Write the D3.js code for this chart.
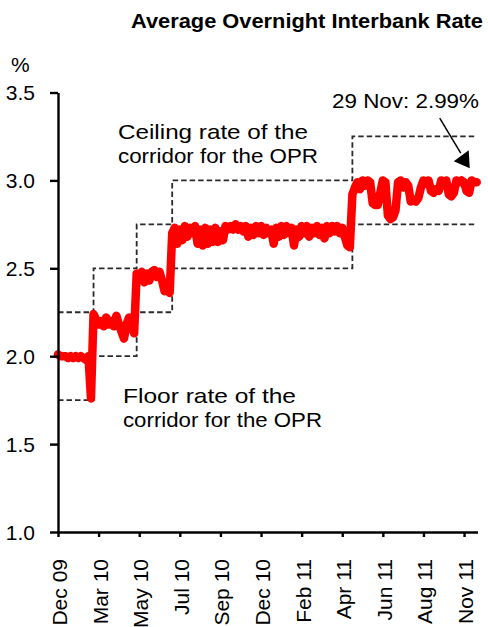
<!DOCTYPE html>
<html>
<head>
<meta charset="utf-8">
<script src="https://cdn.jsdelivr.net/npm/d3@7/dist/d3.min.js"></script>
<style>
  body { margin: 0; background: #fff; }
  text { font-family: 'Liberation Sans', Arial, sans-serif; fill: #000; }
</style>
</head>
<body>
<div id="chart"></div>
<script>
// x is the observation number (roughly every third business day)
const tickIdx = [0, 16, 32, 48, 64, 80, 96, 112, 128, 144, 160];
const tickLabels = ['Dec 09', 'Mar 10', 'May 10', 'Jul 10', 'Sep 10', 'Dec 10',
  'Feb 11', 'Apr 11', 'Jun 11', 'Aug 11', 'Nov 11'];
const yTicks = [1.0, 1.5, 2.0, 2.5, 3.0, 3.5];

// OPR changes and the +/- 25bp corridor round it
const oprIdx = [0, 14, 31, 45, 116, 165];
const oprRate = [2.00, 2.25, 2.50, 2.75, 3.00, 3.00];
const corridorGap = 0.25;

// average overnight interbank rate, %
const rateOpr200 = [2.01, 2.00, 2.00, 2.00, 1.99, 2.00, 1.99, 2.00, 1.99, 2.00, 1.99, 1.98, 2.00, 1.76];
const rateOpr225 = [2.24, 2.21, 2.18, 2.20, 2.17, 2.22, 2.18, 2.20, 2.17, 2.23, 2.18, 2.14, 2.10, 2.18,
  2.22, 2.18, 2.13];
const rateOpr250 = [2.47, 2.44, 2.48, 2.42, 2.47, 2.43, 2.48, 2.49, 2.45, 2.48, 2.43, 2.37, 2.40, 2.36];
const rateOpr275 = [
  2.70, 2.73, 2.64, 2.72, 2.66, 2.74, 2.68, 2.73, 2.70, 2.74,
  2.64, 2.72, 2.63, 2.73, 2.64, 2.72, 2.65, 2.73, 2.65, 2.71,
  2.66, 2.74, 2.72, 2.74, 2.72, 2.75, 2.72, 2.74, 2.71, 2.74,
  2.68, 2.73, 2.69, 2.74, 2.70, 2.74, 2.69, 2.73, 2.70, 2.72,
  2.64, 2.73, 2.68, 2.74, 2.69, 2.74, 2.70, 2.73, 2.63, 2.72,
  2.68, 2.74, 2.70, 2.74, 2.68, 2.73, 2.70, 2.74, 2.69, 2.73,
  2.67, 2.74, 2.70, 2.74, 2.71, 2.74, 2.70, 2.73, 2.68, 2.63,
  2.62];
const rateOpr300 = [
  2.92, 2.96, 2.99, 2.95, 3.00, 2.97, 3.00, 2.99, 2.87, 2.86,
  2.86, 2.93, 3.00, 2.99, 2.80, 2.78, 2.79, 2.83, 2.99, 3.00,
  2.96, 2.99, 2.97, 2.88, 2.89, 2.88, 2.90, 2.96, 3.00, 2.98,
  3.00, 2.94, 2.93, 2.95, 2.94, 3.00, 2.99, 3.00, 2.92, 2.91,
  2.93, 3.00, 2.99, 3.00, 2.99, 2.94, 2.93, 3.00, 2.99, 2.99];
const lastDate = '29 Nov';

const ceilingNote = ['Ceiling rate of the', 'corridor for the OPR'];
const floorNote = ['Floor rate of the', 'corridor for the OPR'];

const W = 488;
const H = 627;
const margin = { t: 92.5, r: 10.5, b: 95, l: 58 };

const rates = [].concat(rateOpr200, rateOpr225, rateOpr250, rateOpr275, rateOpr300);

const scaleX = d3.scaleLinear()
  .domain([0, 165.3])
  .range([margin.l, W - margin.r]);

const scaleY = d3.scaleLinear()
  .domain([1, 3.5])
  .range([H - margin.b, margin.t]);

const svg = d3.select('#chart').append('svg')
  .attr('width', W)
  .attr('height', H)
  .style('background', '#fff');

// title and unit
svg.append('text')
  .attr('x', 483)
  .attr('y', 28)
  .attr('text-anchor', 'end')
  .attr('textLength', 352)
  .attr('lengthAdjust', 'spacingAndGlyphs')
  .style('font-size', '21px')
  .style('font-weight', 'bold')
  .text('Average Overnight Interbank Rate');

svg.append('text')
  .attr('x', 11)
  .attr('y', 72)
  .style('font-size', '21px')
  .text('%');

// corridor (dashed step lines)
const stepLine = d3.line()
  .x(d => scaleX(d[0]))
  .y(d => scaleY(d[1]))
  .curve(d3.curveStepAfter);

[corridorGap, -corridorGap].forEach((gap) => {
  svg.append('path')
    .datum(oprIdx.map((idx, i) => [idx, oprRate[i] + gap]))
    .attr('d', stepLine)
    .attr('fill', 'none')
    .attr('stroke', '#2a2a2a')
    .attr('stroke-width', 1.8)
    .attr('stroke-dasharray', '5.5,3');
});

// rate line
const rateLine = d3.line()
  .x((d, i) => scaleX(i))
  .y(d => scaleY(d));

svg.append('path')
  .datum(rates)
  .attr('d', rateLine)
  .attr('fill', 'none')
  .attr('stroke', '#ff0000')
  .attr('stroke-width', 8.5)
  .attr('stroke-linejoin', 'round')
  .attr('stroke-linecap', 'round');

// axes
const yAxis = d3.axisLeft(scaleY)
  .tickValues(yTicks)
  .tickFormat(d3.format('.1f'))
  .tickSize(8)
  .tickSizeOuter(0)
  .tickPadding(15);

const xAxis = d3.axisBottom(scaleX)
  .tickValues(tickIdx)
  .tickFormat((d, i) => tickLabels[i])
  .tickSize(5)
  .tickSizeOuter(0);

const gx = svg.append('g')
  .attr('transform', `translate(0, ${H - margin.b})`)
  .call(xAxis);

gx.selectAll('text')
  .attr('transform', 'rotate(-90)')
  .attr('x', -27)
  .attr('y', 0)
  .attr('dy', '0.4em')
  .attr('text-anchor', 'end');

const gy = svg.append('g')
  .attr('transform', `translate(${margin.l}, 0)`)
  .call(yAxis);

gy.selectAll('text').attr('dy', '0.35em');

svg.selectAll('.domain, .tick line')
  .attr('stroke', '#000')
  .attr('stroke-width', 2.4);
svg.selectAll('.tick text')
  .style('font-size', '21px')
  .style('font-family', "'Liberation Sans', Arial, sans-serif")
  .attr('fill', '#000');

// notes
function note(lines, x, y, widths) {
  lines.forEach((s, i) => {
    svg.append('text')
      .attr('x', x)
      .attr('y', y + i * 23.5)
      .attr('textLength', widths[i])
      .attr('lengthAdjust', 'spacingAndGlyphs')
      .style('font-size', '21px')
      .text(s);
  });
}

note(ceilingNote, 118, 139, [190, 200]);
note(floorNote, 123, 403, [173, 199]);

const lastIdx = rates.length - 1;
const lastVal = rates[lastIdx];

svg.append('text')
  .attr('x', 479)
  .attr('y', 108)
  .attr('text-anchor', 'end')
  .attr('textLength', 147)
  .attr('lengthAdjust', 'spacingAndGlyphs')
  .style('font-size', '21px')
  .text(`${lastDate}: ${lastVal.toFixed(2)}%`);

// arrow pointing at the last observation
const tipX = scaleX(lastIdx) - 7;
const tipY = scaleY(lastVal) - 14;

svg.append('line')
  .attr('x1', tipX - 30)
  .attr('y1', tipY - 50)
  .attr('x2', tipX - 9)
  .attr('y2', tipY - 15)
  .attr('stroke', '#000')
  .attr('stroke-width', 1.5);

svg.append('path')
  .attr('d', `M${tipX},${tipY} L${tipX - 16},${tipY - 7} L${tipX - 1},${tipY - 18} Z`)
  .attr('fill', '#000');
</script>
</body>
</html>
